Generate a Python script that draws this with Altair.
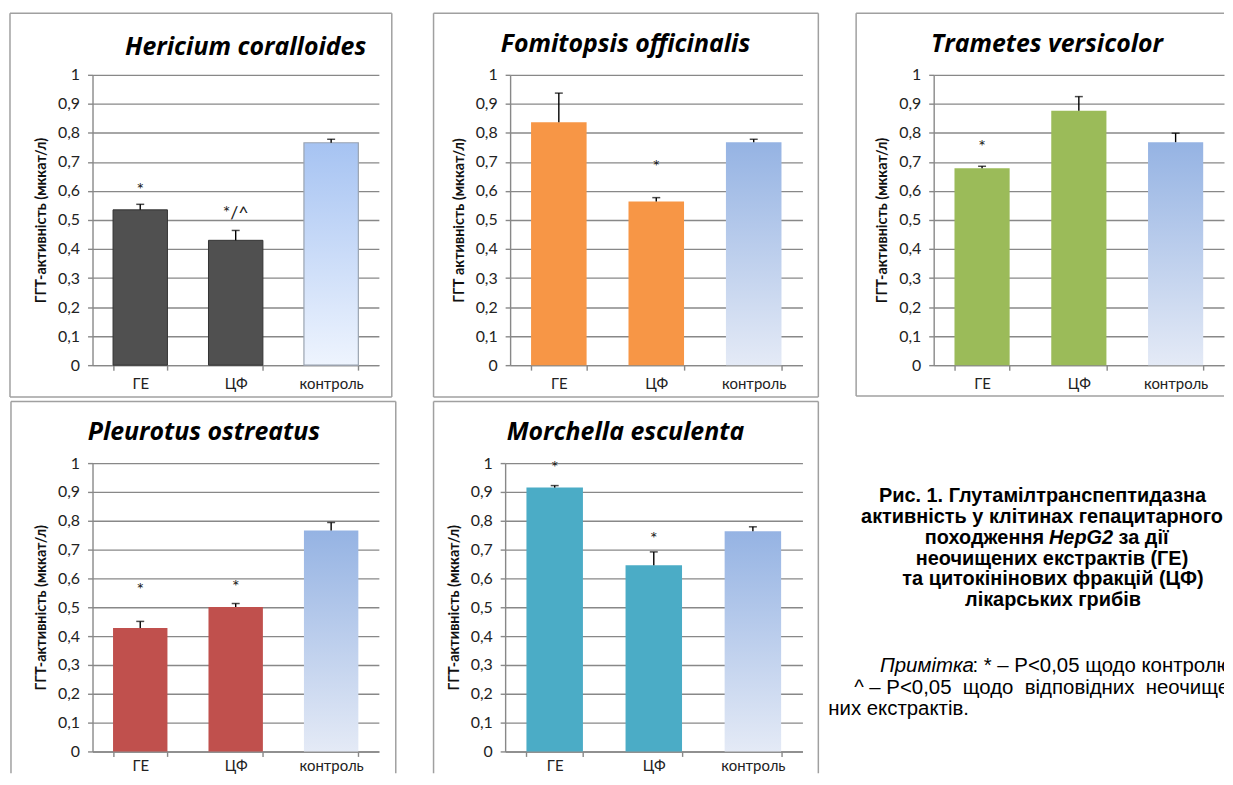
import altair as alt
import pandas as pd

categories = ["ГЕ", "ЦФ", "контроль"]
kinds = ["treat", "treat", "ctrl"]

# Hericium coralloides
her_mean = [0.535, 0.430, 0.766]
her_upper = [0.554, 0.464, 0.778]
her_sig = ["*", "*/^", ""]
her_sig_y = [0.600, 0.520, None]

# Fomitopsis officinalis
fom_mean = [0.837, 0.564, 0.768]
fom_upper = [0.937, 0.577, 0.778]
fom_sig = ["", "*", ""]
fom_sig_y = [None, 0.678, None]

# Trametes versicolor
tra_mean = [0.678, 0.876, 0.768]
tra_upper = [0.685, 0.925, 0.799]
tra_sig = ["*", "", ""]
tra_sig_y = [0.748, None, None]

# Pleurotus ostreatus
ple_mean = [0.428, 0.501, 0.766]
ple_upper = [0.451, 0.513, 0.794]
ple_sig = ["*", "*", ""]
ple_sig_y = [0.556, 0.567, None]

# Morchella esculenta
mor_mean = [0.915, 0.646, 0.764]
mor_upper = [0.922, 0.692, 0.779]
mor_sig = ["*", "*", ""]
mor_sig_y = [0.980, 0.733, None]

y_ticks = [0, 0.1, 0.2, 0.3, 0.4, 0.5, 0.6, 0.7, 0.8, 0.9, 1.0]

GRID = "#888888"
FRAME = "#a0a0a0"
ONE = alt.Data(values=[{"k": 1}])


def vgrad(top, bottom):
    return alt.LinearGradient(
        gradient="linear",
        stops=[alt.GradientStop(color=top, offset=0), alt.GradientStop(color=bottom, offset=1)],
        x1=0, x2=0, y1=0, y2=1,
    )


CTRL = vgrad("#95b3e3", "#e4eaf6")
CTRL_HER = vgrad("#a6c3f2", "#eef4fe")


def frame(left, right, top, bottom, edges):
    out = []
    kw = dict(color=FRAME, strokeWidth=1.5)
    if "t" in edges:
        out.append(alt.Chart(ONE).mark_rule(**kw).encode(
            x=alt.value(left), x2=alt.value(right), y=alt.value(top)))
    if "b" in edges:
        out.append(alt.Chart(ONE).mark_rule(**kw).encode(
            x=alt.value(left), x2=alt.value(right), y=alt.value(bottom)))
    if "l" in edges:
        out.append(alt.Chart(ONE).mark_rule(**kw).encode(
            x=alt.value(left), y=alt.value(top), y2=alt.value(bottom)))
    if "r" in edges:
        out.append(alt.Chart(ONE).mark_rule(**kw).encode(
            x=alt.value(right), y=alt.value(top), y2=alt.value(bottom)))
    return out


def panel(title, ytitle, mean, upper, sig, sig_y, color, ctrl, w, h, border, edges, tpos,
          label_pad=6, treat_stroke=None, ctrl_stroke=None):
    df = pd.DataFrame({"cat": categories, "mean": mean, "upper": upper,
                       "sig": sig, "sig_y": sig_y, "kind": kinds})
    x = alt.X("cat:N", sort=categories,
              scale=alt.Scale(paddingInner=0.43, paddingOuter=0.215),
              axis=alt.Axis(title=None, labelAngle=0, tickBand="extent", grid=False,
                            labelFont="Lato", labelFontSize=15, labelColor="#222",
                            labelPadding=label_pad, tickSize=5, tickColor=GRID, domainColor=GRID,
                            domainWidth=1.4, tickWidth=1.4))
    yaxis = alt.Axis(title=ytitle, values=y_ticks, grid=True, gridColor=GRID, gridWidth=1.4,
                     labelExpr="replace(format(datum.value, '.1~f'), '.', ',')",
                     labelFont="Lato", labelFontSize=16, labelColor="#222", labelPadding=8,
                     tickSize=5, tickColor=GRID, tickWidth=1.4, domainColor=GRID, domainWidth=1.4,
                     titleFont="Lato", titleFontSize=14.5, titleFontWeight="bold", titleColor="#111",
                     titlePadding=9)
    yscale = alt.Scale(domain=[0, 1], nice=False)

    def Y(field):
        return alt.Y(field, scale=yscale, axis=yaxis)

    base = alt.Chart(df).encode(x=x)
    bar_kw = {"color": color}
    if treat_stroke:
        bar_kw.update(stroke=treat_stroke, strokeWidth=1)
    ctrl_kw = {"color": ctrl}
    if ctrl_stroke:
        ctrl_kw.update(stroke=ctrl_stroke, strokeWidth=1.2)
    bars_t = base.transform_filter("datum.kind == 'treat'").mark_bar(**bar_kw).encode(y=Y("mean:Q"))
    bars_c = base.transform_filter("datum.kind == 'ctrl'").mark_bar(**ctrl_kw).encode(y=Y("mean:Q"))
    err = base.mark_rule(color="black", strokeWidth=1.4).encode(y=Y("mean:Q"), y2="upper:Q")
    cap = base.mark_tick(orient="horizontal", size=8, thickness=1.5, color="black").encode(y=Y("upper:Q"))
    stars = base.transform_filter("datum.sig != ''").mark_text(
        font="Lato", fontSize=18, color="#1a1a1a", baseline="middle").encode(y=Y("sig_y:Q"), text="sig:N")
    bx1, bx2, by1, by2 = border
    ttl = alt.Chart(ONE).mark_text(font="Open Sans", fontSize=25, fontWeight="bold",
                                   fontStyle="italic", color="black", align="center",
                                   baseline="middle").encode(
        x=alt.value(tpos[0]), y=alt.value(tpos[1]), text=alt.value(title))
    layers = frame(bx1, bx2, by1, by2, edges) + [bars_t, bars_c, err, cap, stars, ttl]
    return alt.layer(*layers).properties(width=w, height=h)


H1 = 292
H2 = 290
p1 = panel("Hericium coralloides", "ГГТ-активність (мккат/л)", her_mean, her_upper, her_sig, her_sig_y,
           "#505050", CTRL_HER, 288, H1, (-83, 301, -62, 324), "tblr", (154, -28),
           treat_stroke="#333333", ctrl_stroke="#9aa3b0")
p2 = panel("Fomitopsis officinalis", "ГГТ активність (мккат/л)", fom_mean, fom_upper, fom_sig, fom_sig_y,
           "#f79646", CTRL, 294, H1, (-77, 310, -62, 324), "tblr", (116, -31))
p3 = panel("Trametes versicolor", "ГГТ-активність (мккат/л)", tra_mean, tra_upper, tra_sig, tra_sig_y,
           "#9bbb59", CTRL, 292, H1, (-78, 292, -62, 323), "tbl", (114, -31))
p4 = panel("Pleurotus ostreatus", "ГГТ-активність (мккат/л)", ple_mean, ple_upper, ple_sig, ple_sig_y,
           "#c0504d", CTRL, 288, H2, (-82, 305, -62, H2 + 22), "tlr", (112, -31), label_pad=2)
p5 = panel("Morchella esculenta", "ГГТ-активність (мккат/л)", mor_mean, mor_upper, mor_sig, mor_sig_y,
           "#4bacc6", CTRL, 299, H2, (-72, 315, -62, H2 + 22), "tlr", (121, -31), label_pad=2)

# caption panel
cap_lines_bold = [
    "Рис. 1. Глутамілтранспептидазна",
    "активність у клітинах гепацитарного",
    "неочищених екстрактів (ГЕ)",
    "та цитокінінових фракцій (ЦФ)",
    "лікарських грибів",
]
cap_line3 = ["походження", "HepG2", "за дії"]
note_lines = [
    "Примітка",
    ": * – P<0,05 щодо контролю;",
    "^ – P<0,05\u00a0 щодо\u00a0 відповідних\u00a0 неочищених",
    "них екстрактів.",
]

FS_B = 20
FS_N = 20.5
FONT = "Liberation Sans"


def txt(s, x, y, align="center", weight="bold", style="normal", size=FS_B):
    return alt.Chart(ONE).mark_text(font=FONT, fontSize=size, fontWeight=weight, fontStyle=style,
                                    color="black", align=align, baseline="middle", clip=True).encode(
        x=alt.value(x), y=alt.value(y), text=alt.value(s))


cap_layers = [
    txt(cap_lines_bold[0], 53, 33, align="left"),
    txt(cap_lines_bold[1], 35, 54, align="left"),
    txt(cap_line3[0], 219, 75, align="right"),
    txt(cap_line3[1], 224, 75, align="left", style="italic"),
    txt(cap_line3[2], 294, 75, align="left"),
    txt(cap_lines_bold[2], 227, 96),
    txt(cap_lines_bold[3], 228, 117),
    txt(cap_lines_bold[4], 228, 138),
    txt(note_lines[0], 54, 204, align="left", weight="normal", style="italic", size=FS_N),
    txt(note_lines[1], 147, 204, align="left", weight="normal", size=FS_N),
    txt(note_lines[2], 28, 226, align="left", weight="normal", size=FS_N),
    txt(note_lines[3], 2, 247, align="left", weight="normal", size=FS_N),
]
p6 = alt.layer(*cap_layers).properties(width=400, height=H2)

row1 = alt.hconcat(p1, p2, p3, spacing=132, bounds="flush")
row2 = alt.hconcat(p4, alt.hconcat(p5, p6, spacing=24, bounds="flush"), spacing=127, bounds="flush")
chart = alt.vconcat(row1, row2, spacing=2.5).properties(
    padding={"left": 1, "top": 2, "right": 0, "bottom": 0}
).configure_view(stroke=None)

chart.save("out.html", embed_options={"renderer": "svg", "actions": False})
